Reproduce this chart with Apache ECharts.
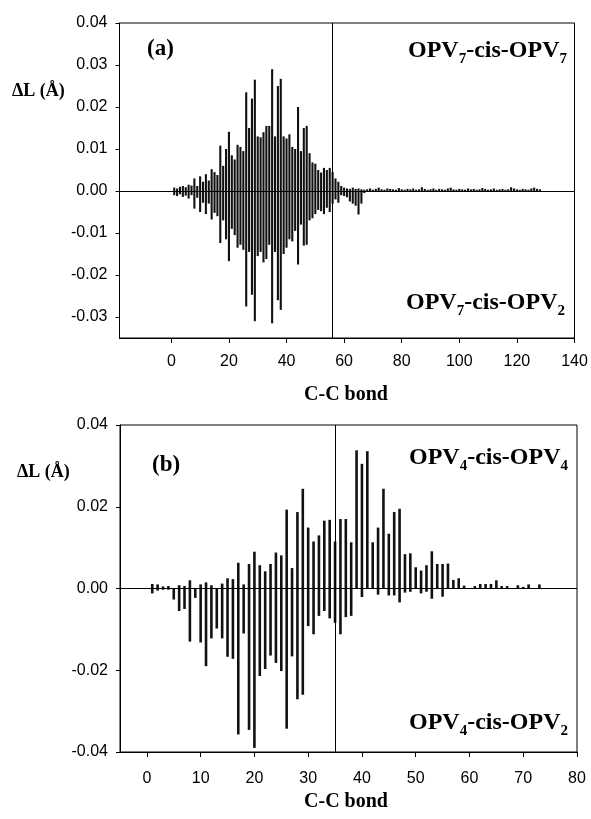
<!DOCTYPE html>
<html><head><meta charset="utf-8">
<script src="https://cdn.jsdelivr.net/npm/echarts@6/dist/echarts.min.js"></script>
<style>html,body{margin:0;padding:0;background:#fff}#c{width:591px;height:819px}</style>
</head><body><div id="c"></div>
<script>
// ---------- Panel (a): OPV7-cis-OPV7 / OPV7-cis-OPV2 ----------
const bondA = [1,2,3,4,5,6,7,8,9,10,11,12,13,14,15,16,17,18,19,20,21,22,23,24,25,26,27,28,29,30,
31,32,33,34,35,36,37,38,39,40,41,42,43,44,45,46,47,48,49,50,51,52,53,54,55,56,57,58,59,60,
61,62,63,64,65,66,67,68,69,70,71,72,73,74,75,76,77,78,79,80,81,82,83,84,85,86,87,88,89,90,
91,92,93,94,95,96,97,98,99,100,101,102,103,104,105,106,107,108,109,110,111,112,113,114,115,116,117,118,119,120,
121,122,123,124,125,126,127,128];
const upperA = [0.0008,0.0006,0.0010,0.0012,0.0009,0.0015,0.0013,0.0030,0.0012,0.0035,
0.0022,0.0040,0.0025,0.0052,0.0045,0.0038,0.0108,0.0060,0.0100,0.0141,
0.0085,0.0075,0.0110,0.0105,0.0095,0.0235,0.0150,0.0220,0.0265,0.0130,
0.0128,0.0140,0.0155,0.0155,0.0290,0.0130,0.0250,0.0267,0.0130,0.0125,
0.0135,0.0105,0.0100,0.0200,0.0095,0.0150,0.0155,0.0090,0.0068,0.0065,
0.0050,0.0044,0.0055,0.0050,0.0055,0.0045,0.0030,0.0022,0.0012,0.0008,
0.0006,0.0005,0.0008,0.0005,0.0006,0.0004,0.0003,0.0004,0.0006,0.0003,
0.0005,0.0008,0.0004,0.0003,0.0006,0.0005,0.0004,0.0003,0.0007,0.0004,
0.0003,0.0005,0.0004,0.0006,0.0003,0.0004,0.0009,0.0005,0.0003,0.0004,
0.0006,0.0003,0.0005,0.0004,0.0003,0.0006,0.0008,0.0004,0.0003,0.0005,
0.0004,0.0003,0.0006,0.0004,0.0005,0.0003,0.0004,0.0007,0.0005,0.0003,
0.0004,0.0006,0.0003,0.0004,0.0005,0.0003,0.0004,0.0009,0.0006,0.0004,
0.0003,0.0005,0.0004,0.0003,0.0006,0.0008,0.0005,0.0004];
const lowerA = [-0.0010,-0.0012,-0.0008,-0.0014,-0.0011,-0.0018,-0.0010,-0.0042,-0.0016,-0.0050,
-0.0028,-0.0055,-0.0030,-0.0068,-0.0052,-0.0060,-0.0124,-0.0070,-0.0115,-0.0167,
-0.0090,-0.0105,-0.0135,-0.0128,-0.0140,-0.0275,-0.0145,-0.0247,-0.0310,-0.0155,
-0.0145,-0.0170,-0.0162,-0.0128,-0.0315,-0.0145,-0.0260,-0.0283,-0.0150,-0.0135,
-0.0115,-0.0120,-0.0095,-0.0175,-0.0080,-0.0130,-0.0128,-0.0070,-0.0065,-0.0055,
-0.0045,-0.0048,-0.0055,-0.0040,-0.0050,-0.0030,-0.0020,-0.0028,-0.0010,-0.0012,
-0.0015,-0.0025,-0.0030,-0.0035,-0.0056,-0.0030,-0.0005,-0.0002,-0.0001,-0.0002,
-0.0001,-0.0002,-0.0001,-0.0002,-0.0001,-0.0001,-0.0002,-0.0001,-0.0002,-0.0001,
-0.0002,-0.0001,-0.0001,-0.0002,-0.0001,-0.0002,-0.0001,-0.0001,-0.0002,-0.0001,
-0.0002,-0.0001,-0.0001,-0.0002,-0.0001,-0.0002,-0.0001,-0.0001,-0.0002,-0.0001,
-0.0001,-0.0002,-0.0001,-0.0002,-0.0001,-0.0001,-0.0002,-0.0001,-0.0002,-0.0001,
-0.0001,-0.0002,-0.0001,-0.0002,-0.0001,-0.0001,-0.0002,-0.0001,-0.0002,-0.0001,
-0.0001,-0.0002,-0.0001,-0.0002,-0.0001,-0.0001,-0.0002,-0.0001];
const splitA = 56;
const xTicksA = [0,20,40,60,80,100,120,140];
const yTicksA = [-0.03,-0.02,-0.01,0.00,0.01,0.02,0.03,0.04];

// ---------- Panel (b): OPV4-cis-OPV4 / OPV4-cis-OPV2 ----------
const bondB = [1,2,3,4,5,6,7,8,9,10,11,12,13,14,15,16,17,18,19,20,21,22,23,24,25,26,27,28,29,30,
31,32,33,34,35,36,37,38,39,40,41,42,43,44,45,46,47,48,49,50,51,52,53,54,55,56,57,58,59,60,
61,62,63,64,65,66,67,68,69,70,71,72,73];
const upperB = [0.0011,0.0010,0.0005,0.0006,0,0.0008,0.0006,0.0020,0,0.0010,
0.0015,0.0008,0,0.0012,0.0025,0.0023,0.0063,0.0010,0.0060,0.0090,
0.0057,0.0042,0.0060,0.0088,0.0081,0.0193,0.0050,0.0187,0.0244,0.0149,
0.0115,0.0130,0.0166,0.0168,0.0115,0.0170,0.0170,0.0113,0.0338,0.0305,
0.0336,0.0113,0.0149,0.0244,0.0134,0.0187,0.0195,0.0084,0.0086,0.0052,
0.0044,0.0057,0.0091,0.0060,0.0060,0.0061,0.0021,0.0025,0.0007,0,
0.0006,0.0011,0.0011,0.0011,0.0020,0.0006,0.0006,0,0.0008,0.0004,
0.0010,0,0.0010];
const lowerB = [-0.0012,-0.0005,-0.0003,-0.0003,-0.0027,-0.0055,-0.0050,-0.0130,-0.0023,-0.0132,
-0.0190,-0.0122,-0.0098,-0.0122,-0.0167,-0.0172,-0.0357,-0.0110,-0.0346,-0.0390,
-0.0214,-0.0197,-0.0164,-0.0182,-0.0202,-0.0343,-0.0166,-0.0271,-0.0260,-0.0092,
-0.0112,-0.0067,-0.0055,-0.0073,-0.0084,-0.0112,-0.0070,-0.0067,0,-0.0021,
0,0,-0.0015,0,-0.0017,-0.0017,-0.0034,-0.0010,-0.0008,0,
-0.0012,-0.0008,-0.0025,0,-0.0020,0,0,0,0,0,
0,0,0,0,0,0,0,0,0,0,
0,0,0];
const splitB = 35;
const xTicksB = [0,10,20,30,40,50,60,70,80];
const yTicksB = [-0.04,-0.02,0.00,0.02,0.04];

// ---------- chart ----------
const SERIF = 'Liberation Serif';
const SANS = 'Liberation Sans';
const tickFont = {fontFamily: SANS, fontSize: 16, color: '#000'};

function pairs(xs, ys){ return xs.map((x,i)=>[x, ys[i]]); }

function xAxisCfg(gi, min, max, ticks, margin){
  return {type:'value', gridIndex:gi, min:min, max:max,
    axisLine:{show:true, onZero:false, lineStyle:{color:'#000', width:1}},
    axisTick:{show:true, customValues:ticks, length:5, lineStyle:{color:'#000'}},
    axisLabel:Object.assign({customValues:ticks, margin:16, formatter:v=>String(Math.round(v))}, tickFont, {margin:margin}),
    splitLine:{show:false}};
}
function yAxisCfg(gi, min, max, ticks){
  return {type:'value', gridIndex:gi, min:min, max:max,
    axisLine:{show:true, onZero:false, lineStyle:{color:'#000', width:1}},
    axisTick:{show:true, customValues:ticks, length:4, lineStyle:{color:'#000'}},
    axisLabel:Object.assign({customValues:ticks, margin:12, formatter:v=>v.toFixed(2)}, tickFont),
    splitLine:{show:false}};
}
function markLines(split){
  return {silent:true, symbol:['none','none'], animation:false, label:{show:false},
    lineStyle:{color:'#000', type:'solid', width:1},
    data:[{xAxis:split},{yAxis:0}]};
}
function barSeries(gi, xs, ys, stack, w, ml){
  const s = {type:'bar', xAxisIndex:gi, yAxisIndex:gi, stack:stack, barWidth:w,
    itemStyle:{color:'#111'}, data:pairs(xs, ys), animation:false, silent:true};
  if (ml) s.markLine = ml;
  return s;
}

const subRich = {
  m:{fontFamily:SERIF, fontWeight:'bold', fontSize:24, color:'#000'},
  s:{fontFamily:SERIF, fontWeight:'bold', fontSize:15, color:'#000', padding:[18,0,0,0]}
};
function label(txt, x, y, align, vAlign){
  return {type:'text', x:x, y:y, silent:true,
    style:{text:txt, rich:subRich, textAlign:align, textVerticalAlign:vAlign}};
}
function plain(txt, x, y, size, align){
  return {type:'text', x:x, y:y, silent:true,
    style:{text:txt, font:'bold '+size+'px '+SERIF, fill:'#000', textAlign:align, textVerticalAlign:'middle'}};
}

const chart = echarts.init(document.getElementById('c'), null, {renderer:'canvas'});
chart.setOption({
  backgroundColor:'#fff',
  animation:false,
  grid:[
    {left:119.5, top:23, width:455, height:315, show:true, borderColor:'#000', borderWidth:1},
    {left:120, top:425, width:457, height:327, show:true, borderColor:'#000', borderWidth:1}
  ],
  xAxis:[ xAxisCfg(0, -18, 140, xTicksA, 16), xAxisCfg(1, -5, 80, xTicksB, 19) ],
  yAxis:[ yAxisCfg(0, -0.035, 0.04, yTicksA), yAxisCfg(1, -0.04, 0.04, yTicksB) ],
  series:[
    barSeries(0, bondA, upperA, 'a', 2.1, markLines(splitA)),
    barSeries(0, bondA, lowerA, 'a', 2.1, null),
    barSeries(1, bondB, upperB, 'b', 2.6, markLines(splitB)),
    barSeries(1, bondB, lowerB, 'b', 2.6, null)
  ],
  graphic:[
    plain('(a)', 147, 49, 23, 'left'),
    plain('(b)', 152, 465, 23, 'left'),
    plain('\u0394L (\u00C5)', 12, 91, 18, 'left'),
    plain('\u0394L (\u00C5)', 17, 472, 18, 'left'),
    plain('C-C bond', 346, 395, 20, 'center'),
    plain('C-C bond', 346, 802, 20, 'center'),
    label('{m|OPV}{s|7}{m|-cis-OPV}{s|7}', 567, 34, 'right', 'top'),
    label('{m|OPV}{s|7}{m|-cis-OPV}{s|2}', 565, 286, 'right', 'top'),
    label('{m|OPV}{s|4}{m|-cis-OPV}{s|4}', 568, 441, 'right', 'top'),
    label('{m|OPV}{s|4}{m|-cis-OPV}{s|2}', 568, 706, 'right', 'top')
  ]
});
</script></body></html>
